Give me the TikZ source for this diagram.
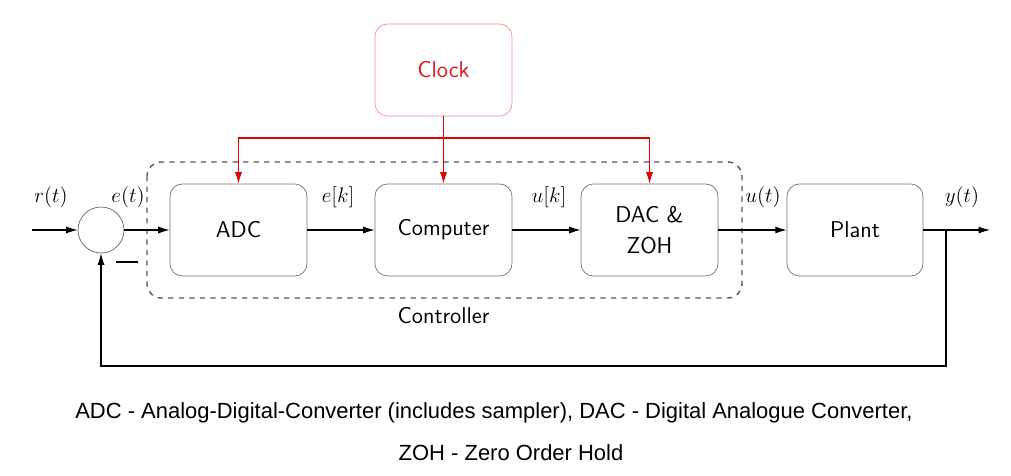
\documentclass[tikz,border=0pt]{standalone}
\usepackage{fontspec}
\newfontfamily\notefont{Liberation Sans}
\usetikzlibrary{arrows.meta}
\definecolor{clockred}{RGB}{230,20,20}
\tikzset{
  block/.style={draw=black!55,rounded corners=7pt,minimum width=2.74cm,minimum height=1.84cm,font=\sffamily\fontsize{13}{16}\selectfont,align=center},
  sumnode/.style={draw=black!60,circle,minimum size=0.92cm,inner sep=0pt},
  sig/.style={font=\fontsize{12.5}{15}\selectfont},
  wire/.style={semithick,-{Latex[length=6.5pt,width=4pt]}},
  tick/.style={red!90!black,semithick,-{Latex[length=6.5pt,width=4pt]}}
}
\begin{document}
\begin{tikzpicture}[x=0.02cm,y=-0.02cm]
\useasboundingbox[fill=white] (0,0) rectangle (1011,476);
\draw[black!65,dashed,thick,rounded corners=8pt] (147,162) rectangle (742,298);
\node[block,draw=red!45,text=clockred] (clock) at (443.5,70) {Clock};
\node[block] (adc) at (238.5,230) {ADC};
\node[block] (comp) at (443.5,230) {Computer};
\node[block] (dac) at (649.5,230) {DAC \&\\[2pt] ZOH};
\node[block,minimum width=2.72cm] (plant) at (855,230) {Plant};
\node[sumnode] (sum) at (101,230) {};
\coordinate (in) at (32,230);
\coordinate (out) at (990,230);
\coordinate (branch) at (946,230);
\coordinate (bus) at (443.5,138);
\draw[wire] (in) -- (sum);
\draw[wire] (sum) -- (adc);
\draw[wire] (adc) -- (comp);
\draw[wire] (comp) -- (dac);
\draw[wire] (dac) -- (plant);
\draw[wire] (plant) -- (out);
\draw[wire] (branch) |- (101,366) -- (sum);
\draw[red!90!black,semithick] (clock) -- (bus);
\draw[tick] (bus) -| (adc);
\draw[tick] (bus) -- (comp);
\draw[tick] (bus) -| (dac);
\node[sig] (r) at (51,197) {$r(t)$};
\node[sig] (e) at (128,197) {$e(t)$};
\node[sig] (ek) at (338,197) {$e[k]$};
\node[sig] (uk) at (549,197) {$u[k]$};
\node[sig] (u) at (763,197) {$u(t)$};
\node[sig] (y) at (962,197) {$y(t)$};
\node[inner sep=0pt] (minus) at (127,262) {\rule{0.44cm}{0.8pt}};
\node[font=\sffamily\fontsize{13}{16}\selectfont] (ctrl) at (443.5,316) {Controller};
\node[font=\notefont\fontsize{12.5}{15}\selectfont] (note1) at (494,413) {ADC - Analog-Digital-Converter (includes sampler), DAC - Digital Analogue Converter,};
\node[font=\notefont\fontsize{12.5}{15}\selectfont] (note2) at (511,453) {ZOH - Zero Order Hold};
\end{tikzpicture}
\end{document}
